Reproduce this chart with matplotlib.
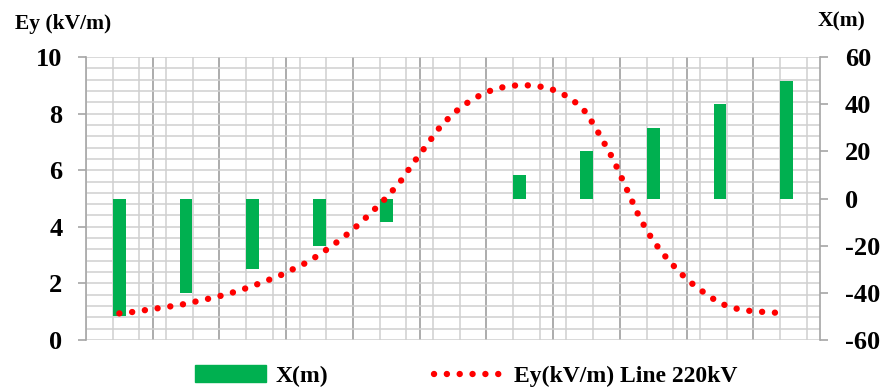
import numpy as np
import matplotlib
matplotlib.use("Agg")
import matplotlib.pyplot as plt
from matplotlib.ticker import FixedLocator
from matplotlib.lines import Line2D
from matplotlib.patches import Patch

plt.rcParams['font.family'] = ['Liberation Serif', 'DejaVu Serif']
plt.rcParams['font.weight'] = 'bold'
plt.rcParams['axes.unicode_minus'] = False

# Lateral distance from the line axis (bars, right axis)
x_pos = [-50, -40, -30, -20, -10, 0, 10, 20, 30, 40, 50]
x_m = [-50, -40, -30, -20, -10, 0, 10, 20, 30, 40, 50]

# Electric field profile Ey along the lateral profile (left axis)
profile_x = [-50, -48, -46, -44, -42, -40, -38, -36, -34, -32, -30, -28, -26,
             -24, -22, -20, -18, -16, -14, -12, -10, -8, -6, -4, -2, 0,
             2, 4, 6, 8, 10, 12, 14, 16, 18, 20, 22, 24, 26, 28, 30, 32,
             34, 36, 38, 40, 42, 44, 46, 48, 50]
ey = [0.94, 0.99, 1.06, 1.13, 1.20, 1.28, 1.39, 1.49, 1.61, 1.75, 1.91, 2.09,
      2.27, 2.50, 2.73, 3.02, 3.35, 3.71, 4.11, 4.56, 5.03, 5.56, 6.24, 6.87,
      7.51, 8.00, 8.36, 8.64, 8.85, 8.96, 9.01, 8.99, 8.92, 8.76, 8.47, 8.03,
      7.24, 6.39, 5.35, 4.30, 3.50, 2.90, 2.38, 1.96, 1.61, 1.30, 1.13, 1.04,
      1.00, 0.97, 0.94]

left_ticks = [0, 2, 4, 6, 8, 10]
right_ticks = [-60, -40, -20, 0, 20, 40, 60]

GREEN = '#00b050'
RED = '#ff0000'
LIGHT = '#d0d0d0'
DARK = '#a6a6a6'
DOTS = (0, (0.01, 2.0))

W, H = 891, 391
fig = plt.figure(figsize=(W / 100, H / 100), dpi=100)
rect = [86 / W, 1 - 340 / H, (820 - 86) / W, (340 - 57) / H]

# Bars and grid live on the lower axes (right scale), the line on the twin above
ax_x = fig.add_axes(rect)
ax_e = ax_x.twinx()

ax_x.set_xlim(-55, 55)
ax_x.set_ylim(-60, 60)
ax_e.set_ylim(0, 10)

# vertical grid: category boundaries (dark) and fine divisions (light)
ax_x.xaxis.set_major_locator(FixedLocator(np.arange(-45, 46, 10)))
ax_x.xaxis.set_minor_locator(FixedLocator(np.arange(-55, 55.1, 4)))
ax_x.tick_params(axis='x', which='both', length=0, labelbottom=False)
ax_x.grid(axis='x', which='minor', color=LIGHT, lw=1.1)
ax_x.grid(axis='x', which='major', color=DARK, lw=1.3)

# horizontal grid every 0.4 kV/m (= 4.8 m on the right scale)
ax_x.yaxis.set_major_locator(FixedLocator(right_ticks))
ax_x.yaxis.set_minor_locator(FixedLocator(np.arange(-60, 60.1, 4.8)))
ax_x.yaxis.remove_overlapping_locs = False
ax_x.grid(axis='y', which='minor', color=LIGHT, lw=1.1)
ax_x.set_axisbelow(True)

ax_x.yaxis.tick_right()
ax_x.tick_params(axis='y', which='major', direction='out', length=6,
                 width=1.2, color=DARK, pad=12, labelsize=19)
ax_x.tick_params(axis='y', which='minor', length=0)

ax_x.bar(x_pos, x_m, width=1.9, color=GREEN, zorder=3)

ax_e.plot(profile_x, ey, color=RED, lw=4.6, linestyle=DOTS,
          dash_capstyle='round', zorder=4)
ax_e.yaxis.tick_left()
ax_e.set_yticks(left_ticks)
ax_e.tick_params(axis='y', direction='out', length=6, width=1.2, color=DARK,
                 pad=11, labelsize=19)
ax_e.tick_params(axis='x', length=0)

for a in (ax_x, ax_e):
    for s in a.spines.values():
        s.set_visible(False)
ax_e.spines['left'].set_visible(True)
ax_e.spines['left'].set_color(DARK)
ax_e.spines['left'].set_linewidth(1.2)
ax_x.spines['right'].set_visible(True)
ax_x.spines['right'].set_color(DARK)
ax_x.spines['right'].set_linewidth(1.2)

fig.text(63 / W, 1 - 24 / H, 'Ey (kV/m)', ha='center', va='center',
         fontsize=15.5, fontweight='bold')
fig.text(842 / W, 1 - 21 / H, 'X(m)', ha='center', va='center',
         fontsize=15.5, fontweight='bold')

# legend entries placed under the plot
leg_kw = dict(loc='center left', frameon=False, fontsize=17, borderpad=0,
              borderaxespad=0, handlelength=3.0, handletextpad=0.4)
fig.legend(handles=[Patch(color=GREEN, label='X(m)')],
           bbox_to_anchor=(195 / W, 1 - 376 / H), **leg_kw)
fig.legend(handles=[Line2D([], [], color=RED, lw=4.6, linestyle=DOTS,
                           dash_capstyle='round',
                           label='Ey(kV/m) Line 220kV')],
           bbox_to_anchor=(434 / W, 1 - 376 / H), **leg_kw)

fig.savefig('out.png', dpi=100)
